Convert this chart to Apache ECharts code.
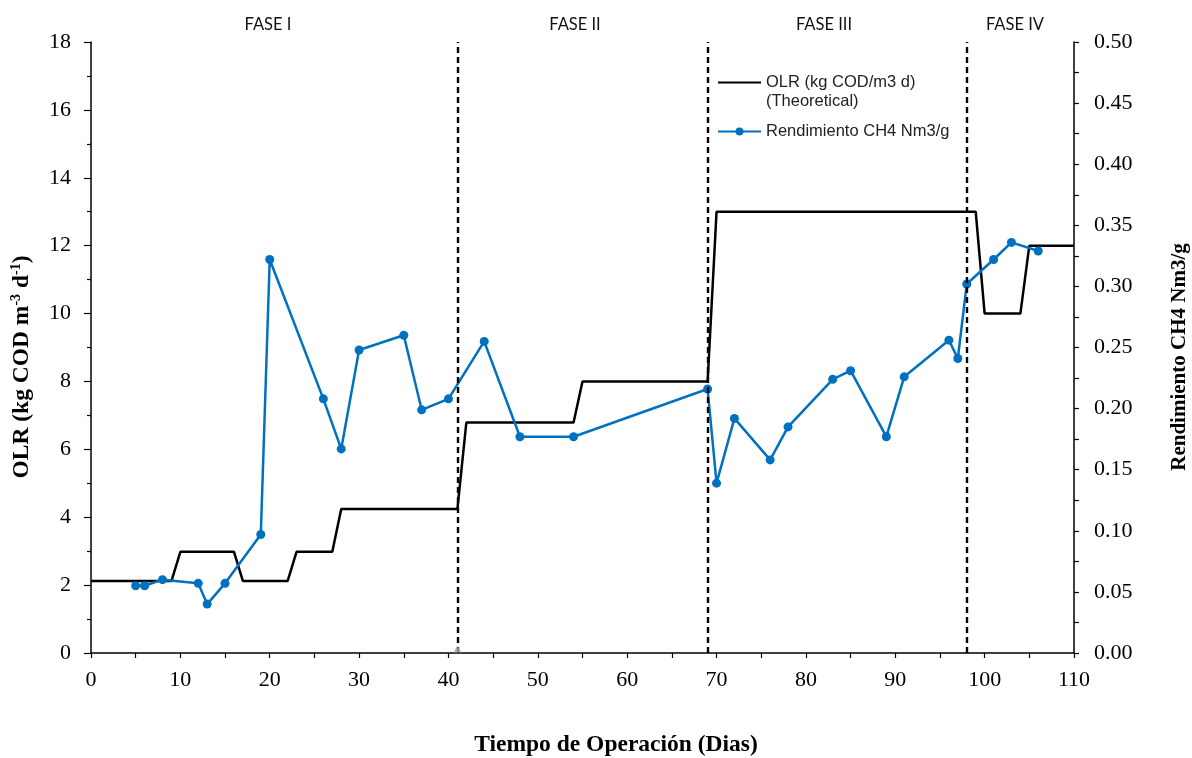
<!DOCTYPE html>
<html>
<head>
<meta charset="utf-8">
<script src="https://cdn.jsdelivr.net/npm/echarts@6/dist/echarts.min.js"></script>
<style>
html,body{margin:0;padding:0;background:#ffffff;}
#chart{width:1192px;height:758px;}
</style>
</head>
<body>
<div id="chart"></div>
<script>
// ---- Data ----
const olrDays   = [0, 9, 10, 16, 17, 22, 23, 27, 28, 41, 42, 54, 55, 69, 70, 99, 100, 104, 105, 110];
const olrValues = [2.12, 2.12, 2.98, 2.98, 2.12, 2.12, 2.98, 2.98, 4.24, 4.24, 6.79, 6.79, 8.0, 8.0, 13.0, 13.0, 10.0, 10.0, 12.0, 12.0];

const ch4Days   = [5, 6, 8, 12, 13, 15, 19, 20, 26, 28, 30, 35, 37, 40, 44, 48, 54, 69, 70, 72, 76, 78, 83, 85, 89, 91, 96, 97, 98, 101, 103, 106];
const ch4Values = [0.055, 0.055, 0.060, 0.057, 0.040, 0.057, 0.097, 0.322, 0.208, 0.167, 0.248, 0.260, 0.199, 0.208, 0.255, 0.177, 0.177, 0.216, 0.139, 0.192, 0.158, 0.185, 0.224, 0.231, 0.177, 0.226, 0.256, 0.241, 0.302, 0.322, 0.336, 0.329];

const phaseBoundaries = [41, 69, 98];
const phaseLabels = ['FASE I', 'FASE II', 'FASE III', 'FASE IV'];
const markerDays = [41];

const olrName = 'OLR (kg COD/m3 d)';
const ch4Name = 'Rendimiento CH4 Nm3/g';

// ---- Chart ----
const serif = '"Liberation Serif","Times New Roman",Times,serif';
const sans = '"Liberation Sans",Arial,Helvetica,sans-serif';
const chart = echarts.init(document.getElementById('chart'), null, {renderer: 'canvas'});

const phaseLabelX = [268, 575, 824, 1015];

const option = {
  animation: false,
  backgroundColor: '#ffffff',
  grid: {left: 91, right: 118, top: 42, bottom: 105, containLabel: false},
  legend: [
    {
      data: [{name: olrName, itemStyle: {opacity: 0}}], orient: 'vertical', left: 717, top: 74, padding: 0,
      itemWidth: 43, itemHeight: 14,
      textStyle: {fontFamily: sans, fontSize: 16.5, color: '#222'}
    },
    {
      data: [ch4Name], orient: 'vertical', left: 717, top: 123, padding: 0,
      itemWidth: 43, itemHeight: 10,
      textStyle: {fontFamily: sans, fontSize: 16.5, color: '#222'}
    }
  ],
  xAxis: {
    type: 'value', min: 0, max: 110, interval: 10,
    axisLine: {show: true, onZero: false, lineStyle: {color: '#000', width: 1.5}},
    axisTick: {show: true, length: 5, inside: false, lineStyle: {color: '#000', width: 1.2}},
    minorTick: {show: true, splitNumber: 2, length: 5, lineStyle: {color: '#000', width: 1.2}},
    splitLine: {show: false},
    axisLabel: {fontFamily: serif, fontSize: 22, color: '#000', margin: 16}
  },
  yAxis: [
    {
      type: 'value', min: 0, max: 18, interval: 2, position: 'left',
      axisLine: {show: true, lineStyle: {color: '#000', width: 1.5}},
      axisTick: {show: true, length: 7, lineStyle: {color: '#000', width: 1.2}},
      minorTick: {show: true, splitNumber: 2, length: 4, lineStyle: {color: '#000', width: 1.2}},
      splitLine: {show: false},
      axisLabel: {fontFamily: serif, fontSize: 22, color: '#000', margin: 20}
    },
    {
      type: 'value', min: 0, max: 0.5, interval: 0.05, position: 'right',
      axisLine: {show: true, lineStyle: {color: '#000', width: 1.5}},
      axisTick: {show: true, length: 5, lineStyle: {color: '#000', width: 1.2}},
      minorTick: {show: true, splitNumber: 2, length: 5, lineStyle: {color: '#000', width: 1.2}},
      splitLine: {show: false},
      axisLabel: {fontFamily: serif, fontSize: 22, color: '#000', margin: 20,
        formatter: v => v.toFixed(2)}
    }
  ],
  series: [
    {
      name: olrName, type: 'line', yAxisIndex: 0,
      data: olrDays.map((d, i) => [d, olrValues[i]]),
      symbol: 'none', color: '#000',
      lineStyle: {color: '#000', width: 2.5},
      z: 2,
      markLine: {
        silent: true, symbol: ['none', 'none'],
        label: {show: false},
        lineStyle: {color: '#000', width: 2.4, type: [6, 4]},
        data: phaseBoundaries.map(d => ({xAxis: d}))
      }
    },
    {
      name: ch4Name, type: 'line', yAxisIndex: 1,
      data: ch4Days.map((d, i) => [d, ch4Values[i]]),
      symbol: 'circle', symbolSize: 9, showSymbol: true,
      color: '#0070C0',
      itemStyle: {color: '#0070C0'},
      lineStyle: {color: '#0070C0', width: 2.5},
      z: 3
    },
    {
      name: '_marker', type: 'scatter', yAxisIndex: 0,
      data: markerDays.map(d => [d, 0]),
      symbol: 'triangle', symbolSize: [8, 7], symbolOffset: [0, -4],
      itemStyle: {color: '#a6a6a6'}, z: 10, silent: true
    }
  ],
  graphic: [
    ...phaseLabels.map((t, i) => ({
      type: 'text', x: phaseLabelX[i], y: 25,
      style: {text: t, fontFamily: 'Lato, "Open Sans", sans-serif', fontSize: 16.5, fill: '#111',
        align: 'center', verticalAlign: 'middle'}
    })),
    {
      type: 'text', x: 766, y: 101,
      style: {text: '(Theoretical)', fontFamily: sans, fontSize: 16.5, fill: '#222',
        align: 'left', verticalAlign: 'middle'}
    },
    {
      type: 'text', x: 616, y: 745,
      style: {text: 'Tiempo de Operación (Dias)', fontFamily: serif, fontSize: 23.5, fontWeight: 'bold',
        fill: '#000', align: 'center', verticalAlign: 'middle'}
    },
    {
      type: 'text', x: 22, y: 367, rotation: Math.PI / 2,
      style: {
        text: '{a|OLR (kg COD m}{s|-3}{a| d}{s|-1}{a|)}',
        align: 'center', verticalAlign: 'middle',
        rich: {
          a: {fontFamily: serif, fontSize: 23.5, fontWeight: 'bold', fill: '#000', lineHeight: 26},
          s: {fontFamily: serif, fontSize: 14, fontWeight: 'bold', fill: '#000', verticalAlign: 'top'}
        }
      }
    },
    {
      type: 'text', x: 1180, y: 357, rotation: Math.PI / 2,
      style: {text: 'Rendimiento CH4 Nm3/g', fontFamily: serif, fontSize: 21, fontWeight: 'bold',
        fill: '#000', align: 'center', verticalAlign: 'middle'}
    }
  ]
};
chart.setOption(option);
</script>
</body>
</html>
